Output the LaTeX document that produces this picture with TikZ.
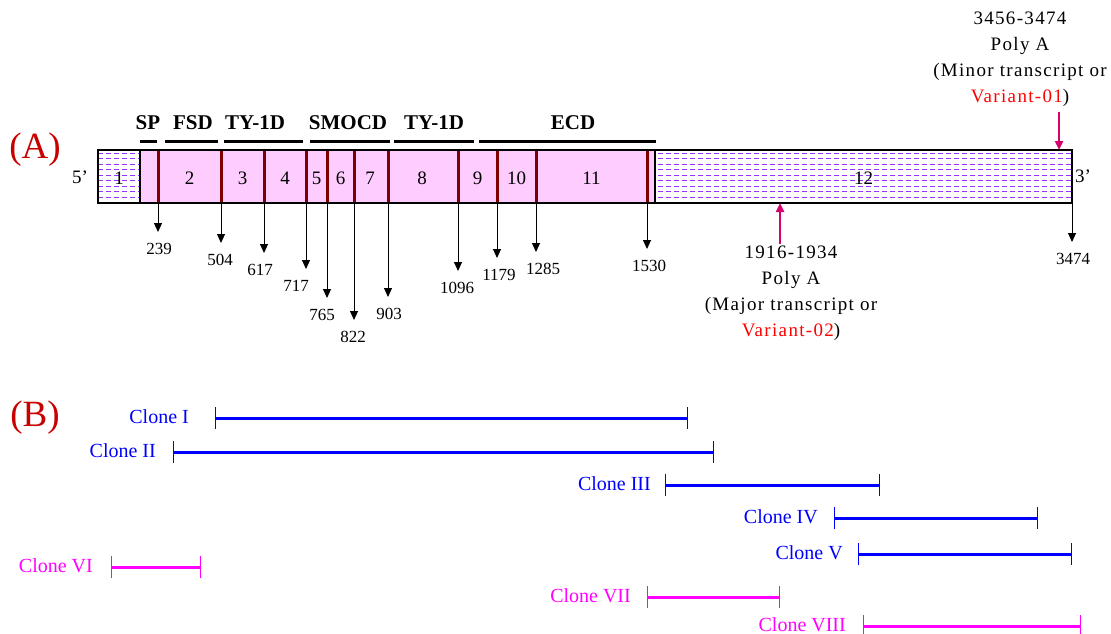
\documentclass[tikz,border=0pt]{standalone}
\usepackage{fontspec}
\setmainfont{Liberation Serif}
\newfontfamily\spacedserif[LetterSpace=7]{Liberation Serif}
\usetikzlibrary{arrows.meta}
\definecolor{exonpink}{RGB}{255,204,255}
\definecolor{divred}{RGB}{128,0,0}
\definecolor{dashvio}{RGB}{153,51,255}
\definecolor{polyred}{RGB}{214,0,110}
\definecolor{tagred}{RGB}{200,0,0}
\definecolor{clonemag}{RGB}{255,0,255}
\begin{document}
\begin{tikzpicture}[x=1pt,y=-1pt,
  every node/.style={font=\fontsize{19}{19}\selectfont,inner sep=1pt},
  numlab/.style={font=\fontsize{17}{17}\selectfont,anchor=north},
  domlab/.style={font=\fontsize{21}{21}\selectfont\bfseries},
  dombar/.style={line width=3pt},
  tickarrow/.style={-{Triangle[length=9pt,width=8pt]},line width=1pt,shorten >=10pt},
  polyarrow/.style={-{Triangle[length=9pt,width=8pt]},line width=2.5pt,polyred},
  polytext/.style={font=\spacedserif\fontsize{19}{26}\selectfont,align=center},
  tag/.style={font=\fontsize{37}{37}\selectfont,text=tagred},
  clonelab/.style={font=\fontsize{20}{20}\selectfont,anchor=east},
  clonebar/.style={line width=3pt,{Bar[width=22pt,line width=1.2pt]}-{Bar[width=22pt,line width=1.2pt]}}]
  \useasboundingbox (0,0) rectangle (1111,634);
  % (A) transcript with exons
  \fill[exonpink] (140,150) rectangle (655,203);
  \begin{scope}
    \clip (98,150) rectangle (140,203) (655,150) rectangle (1072,203);
    \foreach \r in {0,...,8}
      \draw[dashvio,line width=1pt,dash pattern=on 5pt off 3pt] (98,153+5.5*\r) -- (1072,153+5.5*\r);
  \end{scope}
  \foreach \x in {158,221,264,306,327,354,388,458,497,536,647}
    \draw[divred,line width=3pt] (\x,150) -- (\x,204);
  \draw[line width=2.5pt] (98,150) rectangle (1072,203);
  \draw[line width=2.5pt] (140,150) -- (140,203) (655,150) -- (655,203);
  \foreach \n/\x in {1/119,2/189.5,3/242.5,4/285,5/316.5,6/340.5,7/370,8/422,9/477.5,10/516.5,11/591.5,12/863.5}
    \node (ex\n) at (\x,178) {\n};
  \node (five) at (80,177) {5’};
  \node (three) at (1083,176) {3’};
  \node[tag] (tagA) at (35,150) {(A)};
  \node[tag] (tagB) at (35,418) {(B)};
  % domains
  \foreach \i/\lab/\x/\xa/\xb in {1/SP/148/140/157, 2/FSD/193/165/218, 3/TY-1D/255/224/303,%
    4/SMOCD/348/310/390, 5/TY-1D/434/394/474, 6/ECD/573/479/656} {
    \node[domlab] (dom\i) at (\x,123) {\lab};
    \draw[dombar] (\xa,141) -- (\xb,141);
  }
  % junction positions
  \foreach \x/\tip/\lx/\lab in {158/232/159/239, 221/243/220/504, 264/253/260/617, 306/269/296/717,%
    327/298/322/765, 354/320/353/822, 388/297/389/903, 458/271/457/1096, 497/258/499/1179,%
    536/252/543/1285, 647/249/649/1530, 1072/242/1073/3474} {
    \coordinate (d\lab) at (\x,203);
    \node[numlab] (n\lab) at (\lx,\tip+10) {\lab};
    \draw[tickarrow] (d\lab) -- (d\lab |- n\lab.north);
  }
  % poly A sites
  \node[polytext] (minor) at (1020,59) {3456-3474\\Poly A\\(Minor transcript or\\\textcolor{red}{Variant-01})};
  \node[polytext] (major) at (791,293) {1916-1934\\Poly A\\(Major transcript or\\\textcolor{red}{Variant-02})};
  \coordinate (pa1) at (1059,150);
  \coordinate (pa2) at (780,203);
  \draw[polyarrow,shorten <=4pt] (pa1 |- minor.south) -- (pa1);
  \draw[polyarrow] (pa2 |- major.north) -- (pa2);
  % (B) clones
  \foreach \nm/\lx/\xa/\xb/\y/\col in {I/190/215/688/418/blue, II/157/173/714/452/blue,%
    III/652/665/880/485/blue, IV/819/834/1038/518/blue, V/844/858/1072/554/blue,%
    VI/94/111/201/567/clonemag, VII/632/647/780/597/clonemag, VIII/847/863/1081/626/clonemag} {
    \node[clonelab,text=\col] (lab\nm) at (\lx,\y-1.5) {Clone \nm};
    \coordinate (s\nm) at (\xa,\y);
    \coordinate (e\nm) at (\xb,\y);
    \draw[clonebar,\col] (s\nm) -- (e\nm);
  }
\end{tikzpicture}
\end{document}
